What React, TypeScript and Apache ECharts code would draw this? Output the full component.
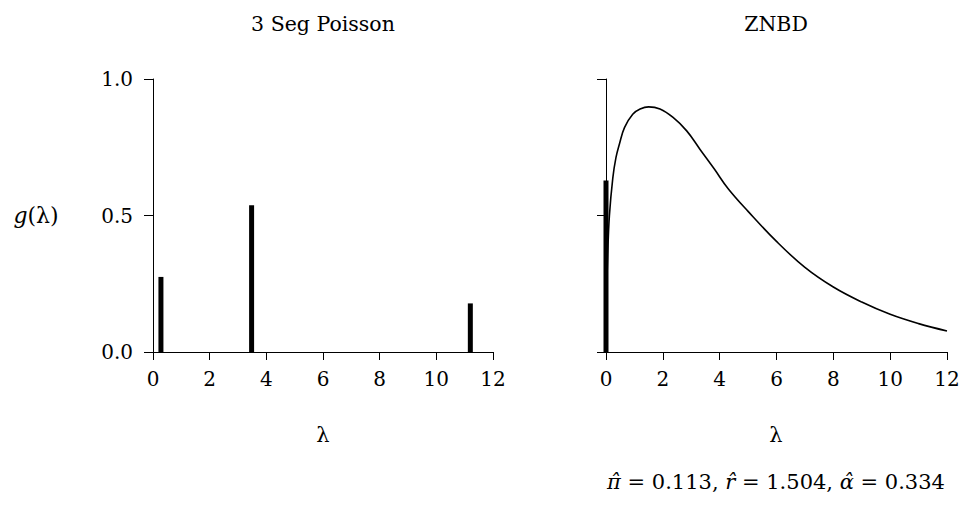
import React, { useEffect, useRef } from "react";
import * as echarts from "echarts";

// 3-segment Poisson: support points and weights
const segLambda = [0.28, 3.48, 11.2];
const segWeight = [0.275, 0.538, 0.178];

// ZNBD: spike at zero and continuous mixing density
const spikeLambda = [0];
const spikeWeight = [0.628];
const curveLambda = [0, 0.02, 0.06, 0.12, 0.24, 0.35, 0.47, 0.65, 0.94, 1.2, 1.5, 1.9, 2.36, 2.84, 3.31, 3.8, 4.3, 5, 6, 7, 8, 9, 10, 11, 12];
const curveG = [0, 0.2, 0.356, 0.5, 0.638, 0.712, 0.761, 0.822, 0.871, 0.89, 0.898, 0.89, 0.859, 0.81, 0.742, 0.672, 0.598, 0.515, 0.405, 0.31, 0.238, 0.183, 0.138, 0.104, 0.077];

const xTicks = [0, 2, 4, 6, 8, 10, 12];
const yTicks = [0, 0.5, 1];

const titles = ["3 Seg Poisson", "ZNBD"];
const FONT = "DejaVu Serif";

export default function App() {
  const ref = useRef<HTMLDivElement>(null);
  useEffect(() => {
    if (!ref.current) return;
    const chart = echarts.init(ref.current, null, { renderer: "svg" });
    const axisX = (gridIndex: number) => ({
      type: "value",
      gridIndex,
      min: xTicks[0],
      max: xTicks[xTicks.length - 1],
      interval: 2,
      axisLine: { show: true, onZero: false, lineStyle: { color: "#000", width: 1 } },
      axisTick: { show: true, length: 8, lineStyle: { color: "#000" } },
      axisLabel: { fontFamily: FONT, fontSize: 20, color: "#000", margin: 17 },
      splitLine: { show: false },
    });
    const axisY = (gridIndex: number, labels: boolean) => ({
      type: "value",
      gridIndex,
      min: yTicks[0],
      max: yTicks[yTicks.length - 1],
      interval: 0.5,
      axisLine: { show: true, onZero: false, lineStyle: { color: "#000", width: 1 } },
      axisTick: { show: true, length: 9, lineStyle: { color: "#000" } },
      axisLabel: {
        show: labels,
        fontFamily: FONT,
        fontSize: 20,
        color: "#000",
        margin: 20,
        formatter: (v: number) => v.toFixed(1),
      },
      splitLine: { show: false },
    });
    chart.setOption({
      animation: false,
      backgroundColor: "#fff",
      grid: [
        { left: 153, top: 79, width: 340, height: 273 },
        { left: 606, top: 79, width: 341, height: 273 },
      ],
      xAxis: [axisX(0), axisX(1)],
      yAxis: [axisY(0, true), axisY(1, false)],
      series: [
        {
          type: "bar",
          xAxisIndex: 0,
          yAxisIndex: 0,
          barWidth: 5,
          clip: false,
          itemStyle: { color: "#000" },
          data: segLambda.map((l, i) => [l, segWeight[i]]),
        },
        {
          type: "bar",
          xAxisIndex: 1,
          yAxisIndex: 1,
          barWidth: 5,
          clip: false,
          itemStyle: { color: "#000" },
          data: spikeLambda.map((l, i) => [l, spikeWeight[i]]),
        },
        {
          type: "line",
          xAxisIndex: 1,
          yAxisIndex: 1,
          showSymbol: false,
          smooth: 0.4,
          lineStyle: { color: "#000", width: 1.6 },
          data: curveLambda.map((l, i) => [l, curveG[i]]),
        },
      ],
      graphic: [
        {
          type: "text",
          x: 323,
          y: 24,
          style: { text: titles[0], font: `20.5px "${FONT}"`, fill: "#000", align: "center", verticalAlign: "middle" },
        },
        {
          type: "text",
          x: 776,
          y: 24,
          style: { text: titles[1], font: `20.5px "${FONT}"`, fill: "#000", align: "center", verticalAlign: "middle" },
        },
        {
          type: "text",
          x: 323,
          y: 435,
          style: { text: "λ", font: `21px "${FONT}"`, fill: "#000", align: "center", verticalAlign: "middle" },
        },
        {
          type: "text",
          x: 776,
          y: 435,
          style: { text: "λ", font: `21px "${FONT}"`, fill: "#000", align: "center", verticalAlign: "middle" },
        },
        {
          type: "text",
          x: 36,
          y: 215,
          style: {
            text: "{i|g}(λ)",
            font: `22px "${FONT}"`,
            fill: "#000",
            align: "center",
            verticalAlign: "middle",
            rich: { i: { fontStyle: "italic", fontFamily: FONT, fontSize: 22 } },
          },
        },
        {
          type: "text",
          x: 776,
          y: 482,
          style: {
            text: "{i|\u03C0\u0302} = 0.113, {i|r\u0302} = 1.504, {i|\u03B1\u0302} = 0.334",
            font: `21px "${FONT}"`,
            fill: "#000",
            align: "center",
            verticalAlign: "middle",
            rich: { i: { fontStyle: "italic", fontFamily: FONT, fontSize: 21 } },
          },
        },
      ],
    });
    return () => chart.dispose();
  }, []);
  return (
    <div
      ref={ref}
      style={{ position: "fixed", left: 0, top: 0, width: 964, height: 519, background: "#fff" }}
    />
  );
}
